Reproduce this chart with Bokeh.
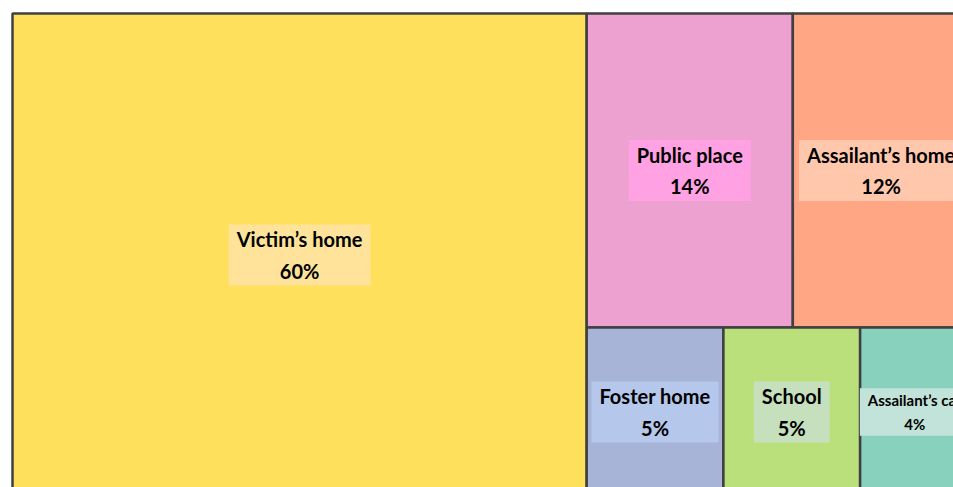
from bokeh.plotting import figure
from bokeh.models import ColumnDataSource, Range1d
from bokeh.core.properties import value
from bokeh.embed import file_html
from bokeh.resources import INLINE

# ---- data ----
locations = ["Victim’s home", "Public place", "Assailant’s home",
             "Foster home", "School", "Assailant’s car"]
shares = [60, 14, 12, 5, 5, 4]
fill_colors = ["#FFE05C", "#ECA1D0", "#FFA685", "#A7B4D8", "#BAE07C", "#88D1BC"]
label_bg = ["#FFE39B", "#FFA1E3", "#FFC8AD", "#B5C7EB", "#C6DFBC", "#C2E3D9"]

# ---- layout constants (treemap drawing area, screen-like units) ----
TM_W, TM_H = 957.0, 483.0
OFF_X, OFF_Y = 12.0, 13.0
WIN_W, WIN_H = 953, 487


def worst(row, side):
    s = sum(row)
    mx, mn = max(row), min(row)
    return max(side * side * mx / (s * s), (s * s) / (side * side * mn))


def layout_row(row, x, y, w, h):
    s = sum(row)
    rects = []
    if w >= h:  # column along the height, on the left
        cw = s / h
        yy = y
        for a in row:
            rh = a / cw
            rects.append((x, yy, cw, rh))
            yy += rh
        return rects, (x + cw, y, w - cw, h)
    else:  # row along the width, at the top
        rh = s / w
        xx = x
        for a in row:
            rw = a / rh
            rects.append((xx, y, rw, rh))
            xx += rw
        return rects, (x, y + rh, w, h - rh)


def squarify(areas, x, y, w, h):
    out = []
    areas = list(areas)
    while areas:
        side = min(w, h)
        row = [areas.pop(0)]
        while areas and worst(row + [areas[0]], side) <= worst(row, side):
            row.append(areas.pop(0))
        rects, (x, y, w, h) = layout_row(row, x, y, w, h)
        out.extend(rects)
    return out


total = float(sum(shares))
areas = [v / total * TM_W * TM_H for v in shares]
rects = squarify(areas, 0.0, 0.0, TM_W, TM_H)

left = [r[0] for r in rects]
right = [r[0] + r[2] for r in rects]
top = [r[1] for r in rects]
bottom = [r[1] + r[3] for r in rects]

vis_top, vis_bot = -OFF_Y, WIN_H - OFF_Y
vis_left, vis_right = -OFF_X, WIN_W - OFF_X
lx = [(l + r) / 2 for l, r in zip(left, right)]
ly = [(t + b) / 2 for t, b in zip(top, bottom)]
labels = [f"{n}\n{v}%" for n, v in zip(locations, shares)]
fsize = [f"{min(20, int((r - l) / (len(n) * 0.47)))}px"
         for n, l, r in zip(locations, left, right)]

src = ColumnDataSource(dict(left=left, right=right, top=top, bottom=bottom,
                            fill=fill_colors, bg=label_bg, lx=lx, ly=ly,
                            label=labels, fs=fsize))

p = figure(width=WIN_W, height=WIN_H, output_backend="svg", toolbar_location=None,
           x_range=Range1d(vis_left, vis_right), y_range=Range1d(vis_bot, vis_top),
           min_border=0, background_fill_color="white", border_fill_color="white")
p.axis.visible = False
p.grid.visible = False
p.outline_line_color = None

p.quad(left="left", right="right", top="top", bottom="bottom", source=src,
       fill_color="fill", line_color="#404040", line_width=2.5)

p.text(x="lx", y="ly", text="label", source=src, text_align="center",
       text_baseline="middle", text_font=value("Lato"), text_font_style="bold",
       text_font_size="fs", text_color="#000000", text_line_height=1.3,
       background_fill_color="bg", background_fill_alpha=1.0,
       padding=dict(left=8, right=8, top=3, bottom=3))

open("out.html", "w").write(file_html(p, INLINE))
